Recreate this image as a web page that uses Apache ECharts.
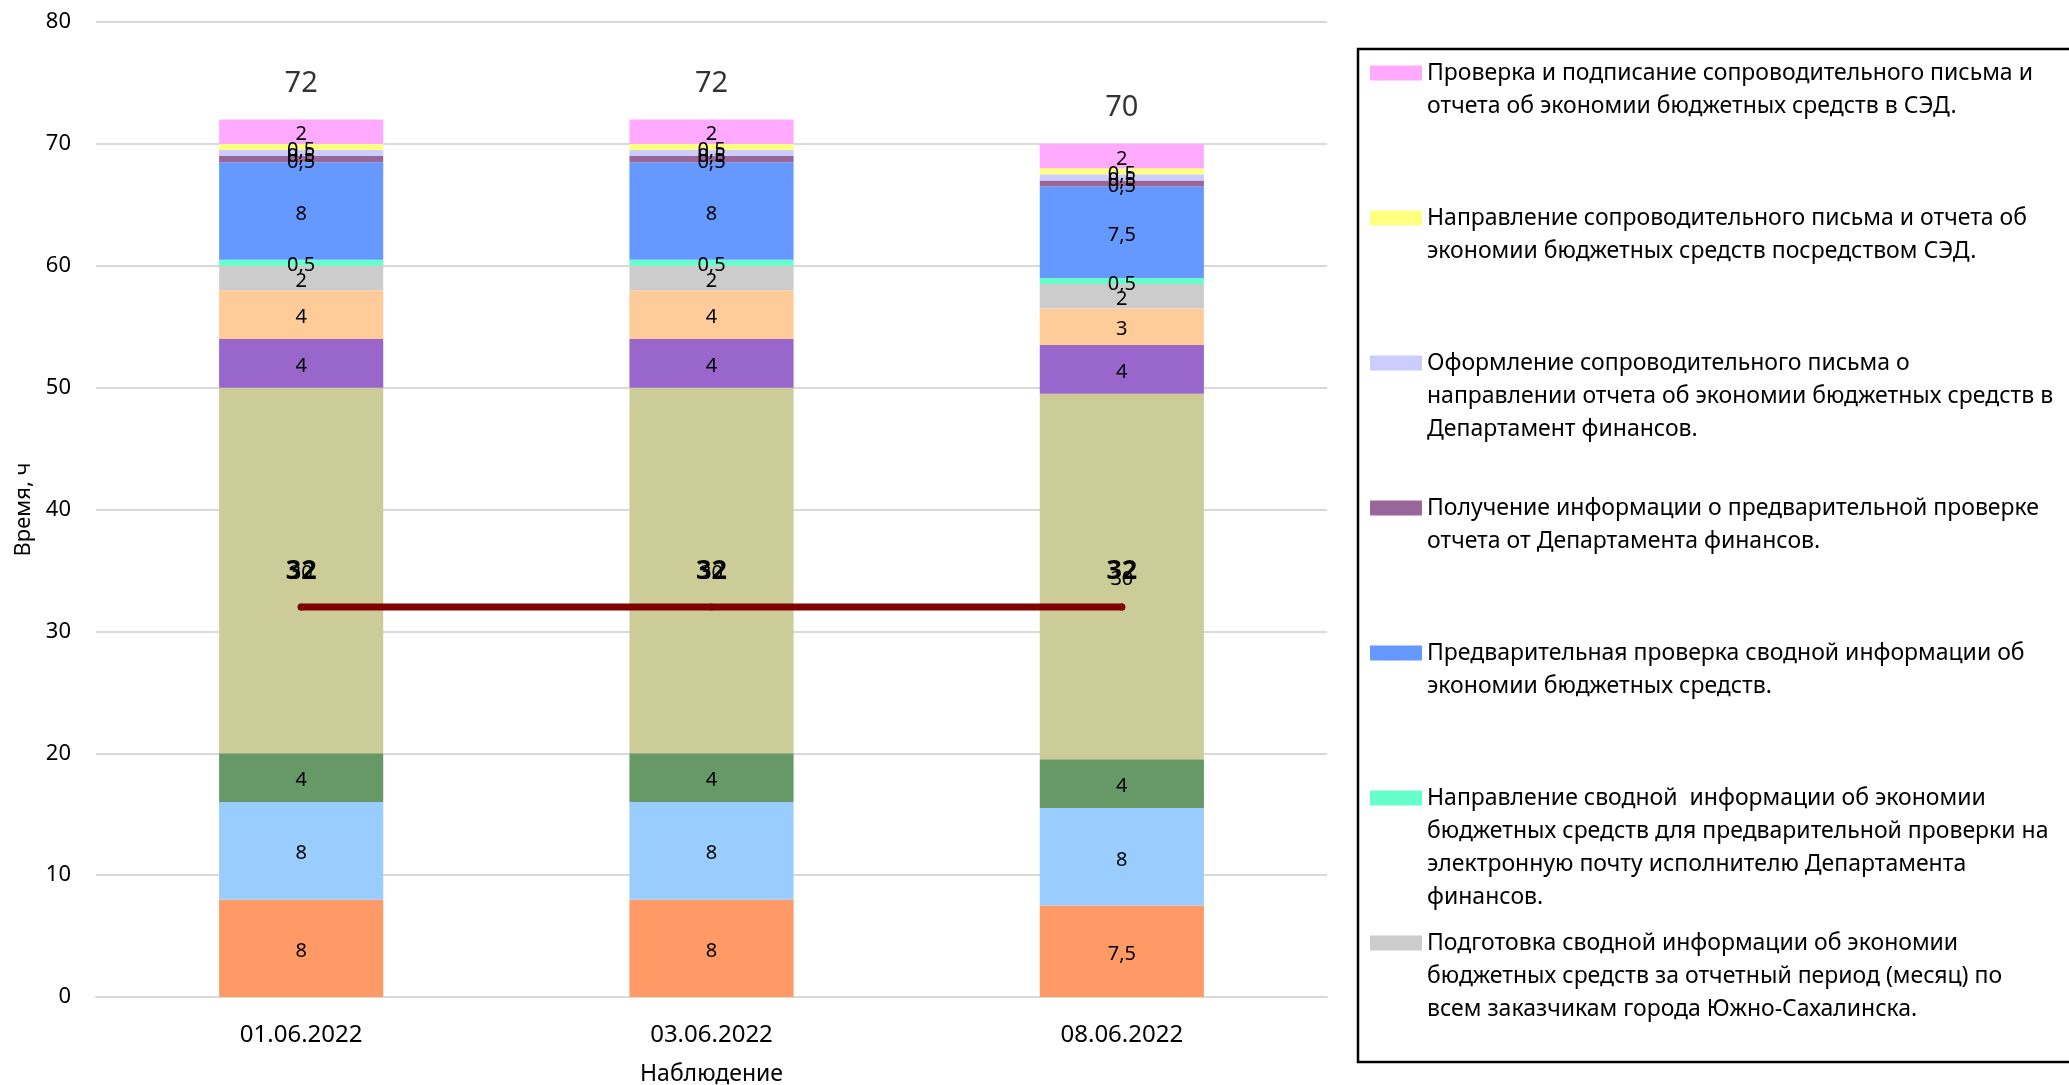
<!DOCTYPE html>
<html><head><meta charset="utf-8">
<script src="https://cdn.jsdelivr.net/npm/echarts@6/dist/echarts.min.js"></script>
<style>html,body{margin:0;padding:0;background:#fff;}#c{width:2069px;height:1085px;}</style>
</head><body><div id="c"></div>
<script>
// ---- data ----
const categories = ['01.06.2022', '03.06.2022', '08.06.2022'];
const stage1  = [8, 8, 7.5];
const stage2  = [8, 8, 8];
const stage3  = [4, 4, 4];
const stage4  = [30, 30, 30];
const stage5  = [4, 4, 4];
const stage6  = [4, 4, 3];
const stage7  = [2, 2, 2];
const stage8  = [0.5, 0.5, 0.5];
const stage9  = [8, 8, 7.5];
const stage10 = [0.5, 0.5, 0.5];
const stage11 = [0.5, 0.5, 0.5];
const stage12 = [0.5, 0.5, 0.5];
const stage13 = [2, 2, 2];
const totals = [72, 72, 70];
const normLine = [32, 32, 32];
const yMin = 0, yMax = 80, yInterval = 10;

const stageNames = [
  'Этап 1', 'Этап 2', 'Этап 3', 'Этап 4', 'Этап 5', 'Этап 6',
  'Подготовка сводной информации об экономии\nбюджетных средств за отчетный период (месяц) по\nвсем заказчикам города Южно-Сахалинска.',
  'Направление сводной  информации об экономии\nбюджетных средств для предварительной проверки на\nэлектронную почту исполнителю Департамента\nфинансов.',
  'Предварительная проверка сводной информации об\nэкономии бюджетных средств.',
  'Получение информации о предварительной проверке\nотчета от Департамента финансов.',
  'Оформление сопроводительного письма о\nнаправлении отчета об экономии бюджетных средств в\nДепартамент финансов.',
  'Направление сопроводительного письма и отчета об\nэкономии бюджетных средств посредством СЭД.',
  'Проверка и подписание сопроводительного письма и\nотчета об экономии бюджетных средств в СЭД.'
];
const stageValues = [stage1, stage2, stage3, stage4, stage5, stage6, stage7, stage8, stage9, stage10, stage11, stage12, stage13];
const stageColors = ['#FF9966', '#99CCFF', '#669966', '#CCCC99', '#9966CC', '#FFCC99', '#CCCCCC',
                     '#66FFCC', '#6699FF', '#996699', '#CCCCFF', '#FFFF80', '#FFAAFF'];

// ---- styling ----
const font = "'Noto Sans', 'Open Sans', sans-serif";
const fmt = v => String(v).replace('.', ',');

const series = stageValues.map((vals, i) => ({
  name: stageNames[i],
  type: 'bar',
  stack: 'total',
  barWidth: '40%',
  data: vals,
  itemStyle: { color: stageColors[i] },
  label: {
    show: true, position: 'inside', color: '#000', offset: [0, 3],
    fontFamily: font, fontSize: 20,
    formatter: p => fmt(p.value)
  }
}));

series.push({
  name: 'Итого',
  type: 'scatter',
  data: totals,
  symbolSize: 1,
  itemStyle: { color: 'transparent' },
  label: {
    show: true, position: 'top', distance: 21, color: '#000',
    fontFamily: font, fontSize: 29, formatter: p => fmt(p.value)
  },
  z: 5
});

series.push({
  name: 'Норматив',
  type: 'line',
  data: normLine,
  symbol: 'circle',
  symbolSize: 7,
  itemStyle: { color: '#800000' },
  lineStyle: { color: '#800000', width: 7, cap: 'round' },
  label: {
    show: true, position: 'top', distance: 19, color: '#000',
    fontFamily: font, fontSize: 27, fontWeight: 'bold',
    formatter: p => fmt(p.value)
  },
  z: 10
});

// ---- legend: one component per visible item (top of stack first) ----
const legendLH = 33;
const legendItems = [12, 11, 10, 9, 8, 7, 6];
const legends = legendItems.map((idx, k) => {
  const n = stageNames[idx].split('\n').length;
  const center = 73 + 145 * k;
  return {
    data: [stageNames[idx]],
    orient: 'vertical',
    left: 1370,
    top: center - (2 * n - 1) * legendLH / 2,
    padding: 0,
    itemWidth: 52,
    itemHeight: 15,
    icon: 'rect',
    selectedMode: false,
    // blank leading lines keep the first text line level with the swatch
    formatter: name => '\n'.repeat(n - 1) + name,
    textStyle: { color: '#000', fontFamily: font, fontSize: 23, lineHeight: legendLH }
  };
});

const option = {
  animation: false,
  backgroundColor: '#fff',
  grid: { left: 96, right: 742, top: 22, bottom: 88, containLabel: false, outerBoundsMode: 'none' },
  legend: legends,
  graphic: [{
    type: 'rect', silent: true,
    shape: { x: 1358, y: 49, width: 800, height: 1013 },
    style: { fill: 'none', stroke: '#000', lineWidth: 2.5 }
  }],
  xAxis: {
    type: 'category',
    data: categories,
    axisTick: { show: false },
    axisLine: { lineStyle: { color: '#D9D9D9', width: 2 } },
    axisLabel: { color: '#000', fontFamily: font, fontSize: 24, margin: 26 },
    name: 'Наблюдение',
    nameLocation: 'middle',
    nameGap: 66,
    nameTextStyle: { color: '#000', fontFamily: font, fontSize: 23 }
  },
  yAxis: {
    type: 'value',
    min: yMin, max: yMax, interval: yInterval,
    axisLine: { show: false },
    axisTick: { show: false },
    splitLine: { lineStyle: { color: '#D9D9D9', width: 2 } },
    axisLabel: { color: '#000', fontFamily: font, fontSize: 22, margin: 25 },
    name: 'Время, ч',
    nameLocation: 'middle',
    nameGap: 60,
    nameRotate: 90,
    nameTextStyle: { color: '#000', fontFamily: font, fontSize: 22 }
  },
  series: series
};

const chart = echarts.init(document.getElementById('c'), null, { renderer: 'canvas' });
chart.setOption(option);
</script>
</body></html>
